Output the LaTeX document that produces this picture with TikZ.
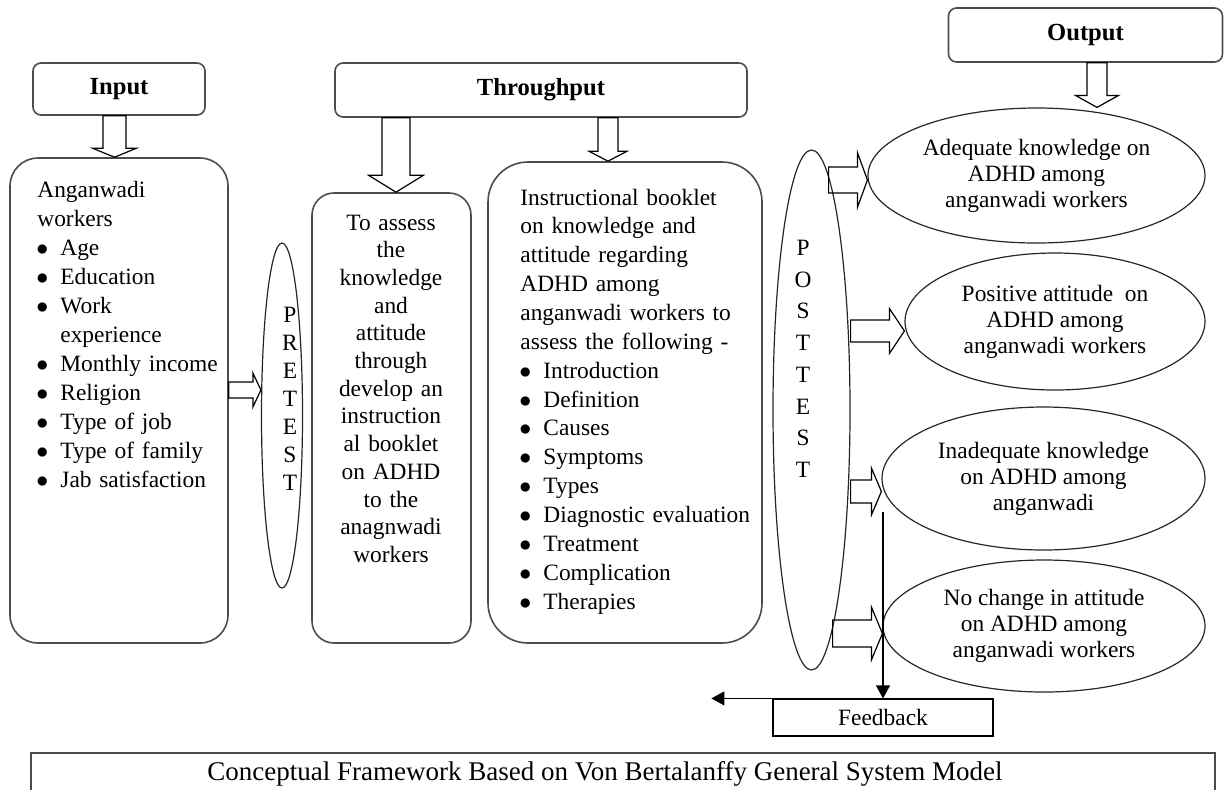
\documentclass[tikz,border=0pt]{standalone}
\usepackage{fontspec}
\setmainfont{Liberation Serif}
\usetikzlibrary{shapes.geometric,arrows.meta,calc}

% bullet item with hanging indent
\newcommand{\itm}[1]{\par\hangindent=11.5pt\hangafter=1\noindent\makebox[11.5pt][l]{\hspace{-0.5pt}$\bullet$}#1}
% block arrow pointing down: start, tip, shaft half, head half, head length
\newcommand{\blockdown}[5]{%
  \draw[blockarrow] ($(#1)+(-#3,0)$) -- ($(#2)+(-#3,-#5)$) -- ($(#2)+(-#4,-#5)$) -- (#2)
    -- ($(#2)+(#4,-#5)$) -- ($(#2)+(#3,-#5)$) -- ($(#1)+(#3,0)$) -- cycle;}
% block arrow pointing right: start, tip, shaft half, head half, head length
\newcommand{\blockright}[5]{%
  \draw[blockarrow] ($(#1)+(0,-#3)$) -- ($(#2)+(-#5,-#3)$) -- ($(#2)+(-#5,-#4)$) -- (#2)
    -- ($(#2)+(-#5,#4)$) -- ($(#2)+(-#5,#3)$) -- ($(#1)+(0,#3)$) -- cycle;}

\tikzset{
  titlebox/.style={draw=black!70, line width=0.8pt, rounded corners=4pt, inner sep=0pt,
    font=\fontsize{12.3pt}{14pt}\selectfont\bfseries},
  roundbox/.style={draw=black!70, line width=0.8pt, inner sep=0pt},
  oval/.style={ellipse, draw=black!85, line width=0.6pt, inner sep=0pt, align=center,
    font=\fontsize{11.7pt}{13pt}\selectfont},
  bodytext/.style={inner sep=0pt, font=\fontsize{11.7pt}{14.5pt}\selectfont},
  blockarrow/.style={draw=black, line width=0.6pt, line join=miter},
  feedline/.style={draw=black, line width=0.6pt, -{Triangle[length=6.5pt,width=7pt]}},
}

\begin{document}
\begin{tikzpicture}[x=0.5pt,y=-0.5pt]
\useasboundingbox (0,0) rectangle (1224,789);
\clip (0,0) rectangle (1224,789);

% headings
\node[titlebox, minimum width=86pt, minimum height=26pt] (in) at (119,89) {\raisebox{-1.5pt}{Input}};
\node[titlebox, minimum width=206pt, minimum height=27pt] (thru) at (541,90) {\raisebox{-1.5pt}{Throughput}};
\node[titlebox, minimum width=137pt, minimum height=27pt] (out) at (1085.5,35) {\raisebox{-1.5pt}{Output}};

% boxes
\node[roundbox, rounded corners=14pt, minimum width=109pt, minimum height=242.5pt] (work) at (119,400.5) {};
\node[roundbox, rounded corners=11pt, minimum width=79.5pt, minimum height=225pt] (assess) at (391.5,418) {};
\node[roundbox, rounded corners=20pt, minimum width=137pt, minimum height=240.5pt] (booklet) at (625,402.5) {};

\node[bodytext, text width=95pt, align=left, anchor=base west] (worktext) at (37,197)
  {Anganwadi\\workers\itm{Age}\itm{Education}\itm{Work\newline experience}\itm{Monthly income}%
   \itm{Religion}\itm{Type of job}\itm{Type of family}\itm{Jab satisfaction}};
\node[bodytext, font=\fontsize{11.7pt}{13.85pt}\selectfont, text width=78pt, align=center, anchor=base] (assesstext) at (391,230)
  {To assess\\the\\knowledge\\and\\attitude\\through\\develop an\\instruction\\al booklet\\on ADHD\\to the\\anagnwadi\\workers};
\node[bodytext, font=\fontsize{11.7pt}{14.43pt}\selectfont, text width=125pt, align=left, anchor=base west] (booktext) at (520,205)
  {Instructional booklet\\on knowledge and\\attitude regarding\\ADHD among\\anganwadi workers to\\assess the following -%
   \itm{Introduction}\itm{Definition}\itm{Causes}\itm{Symptoms}\itm{Types}\itm{Diagnostic evaluation}%
   \itm{Treatment}\itm{Complication}\itm{Therapies}};

% pretest and posttest
\node[oval, minimum width=20.5pt, minimum height=172.5pt] (pre) at (282,415.5) {};
\node[bodytext, font=\fontsize{11.7pt}{14pt}\selectfont, text width=12pt, align=center, anchor=base] (pretext) at (290,322)
  {P\\R\\E\\T\\E\\S\\T};
\node[oval, minimum width=38.5pt, minimum height=260pt] (post) at (811.5,410) {};
\node[bodytext, font=\fontsize{11.7pt}{15.85pt}\selectfont, text width=12pt, align=center, anchor=base] (posttext) at (803,255.5)
  {P\\O\\S\\T\\T\\E\\S\\T};

% outcomes
\node[oval, minimum width=168.5pt, minimum height=67.5pt] (adeq) at (1036.5,175.5) {Adequate knowledge on\\ADHD among\\anganwadi workers};
\node[oval, minimum width=150pt, minimum height=68.5pt] (posi) at (1055,321.5) {Positive attitude\ \ on\\ADHD among\\anganwadi workers};
\node[oval, minimum width=161.5pt, minimum height=71.5pt] (inadeq) at (1043.5,478.5) {Inadequate knowledge\\on ADHD among\\anganwadi};
\node[oval, minimum width=161pt, minimum height=66pt] (nochg) at (1044,626) {No change in attitude\\on ADHD among\\anganwadi workers};

% block arrows
\coordinate (d1s) at (in.south -| 114.5,0);
\coordinate (d1t) at (work.north -| d1s);
\blockdown{d1s}{d1t}{11.5}{22}{9}
\coordinate (d2s) at (thru.south -| 396,0);
\coordinate (d2t) at (assess.north -| d2s);
\blockdown{d2s}{d2t}{14}{27.5}{17}
\coordinate (d3s) at (thru.south -| 608,0);
\coordinate (d3t) at (booklet.north -| d3s);
\blockdown{d3s}{d3t}{10}{19}{10}
\coordinate (d4s) at (out.south -| 1097,0);
\coordinate (d4t) at (adeq.north -| d4s);
\blockdown{d4s}{d4t}{10}{21.5}{12}

\coordinate (r0s) at (work.east |- 0,390);
\coordinate (r0t) at (pre.west |- r0s);
\blockright{r0s}{r0t}{8}{17}{8}
\coordinate (r1s) at ([xshift=-11pt]post.east |- 0,180);
\coordinate (r1t) at (adeq.west |- r1s);
\blockright{r1s}{r1t}{13}{27.5}{10}
\coordinate (r2s) at (post.east |- 0,331);
\coordinate (r2t) at (posi.west |- r2s);
\blockright{r2s}{r2t}{11}{22.5}{15}
\coordinate (r3s) at (post.east |- 0,491.5);
\coordinate (r3t) at (inadeq.west |- r3s);
\blockright{r3s}{r3t}{11.5}{23.5}{10}
\coordinate (r4s) at ([xshift=-9pt]post.east |- 0,633.5);
\coordinate (r4t) at (nochg.west |- r4s);
\blockright{r4s}{r4t}{13.5}{26.5}{11}

% feedback
\node[draw=black, line width=0.6pt, minimum width=110pt, minimum height=18.5pt, inner sep=0pt,
  font=\fontsize{11.7pt}{14pt}\selectfont] (fb) at (883,717.5) {Feedback};
\coordinate (fbs) at (fb.north |- 0,512);
\draw[feedline] (fbs) -- (fb.north);
\coordinate (fbend) at ([xshift=-30.5pt]fb.north west);
\draw[feedline] (fb.north west) -- (fbend);

% caption
\node[draw=black!70, line width=0.8pt, minimum width=592pt, minimum height=23.5pt, inner sep=0pt] (cap) at (623,776.5) {};
\node[inner sep=0pt, anchor=base, font=\fontsize{13.5pt}{15pt}\selectfont] (captext) at (605,780)
  {Conceptual Framework Based on Von Bertalanffy General System Model};
\end{tikzpicture}
\end{document}
